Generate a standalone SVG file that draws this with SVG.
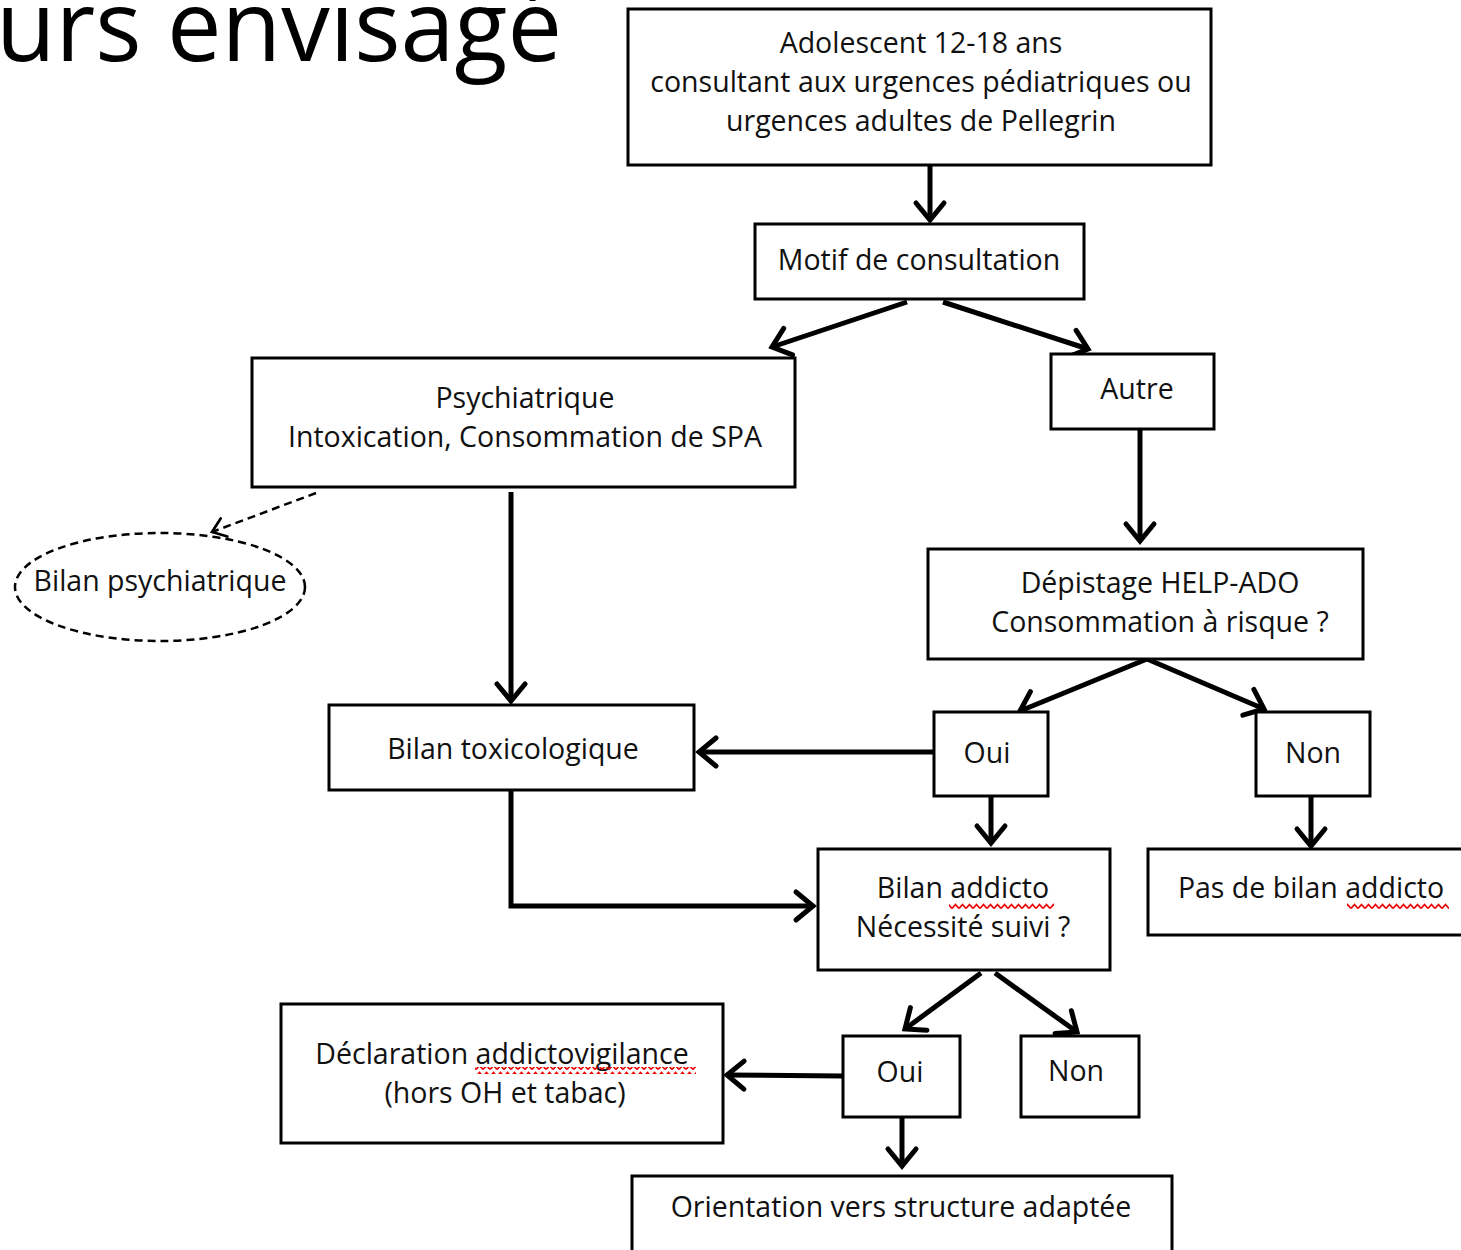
<svg xmlns="http://www.w3.org/2000/svg" width="1461" height="1250" viewBox="0 0 1461 1250">
<defs>
<style>
.box{fill:#fff;stroke:#000;stroke-width:3}
.t{font-family:"Open Sans","Liberation Sans",sans-serif;font-size:28.5px;fill:#111;text-anchor:middle}
.c{fill:none;stroke:#000;stroke-width:5;marker-end:url(#ah)}
.d{fill:none;stroke:#000;stroke-width:2.5;stroke-dasharray:8 5;marker-end:url(#ahd)}
</style>
<marker id="ah" markerUnits="userSpaceOnUse" markerWidth="40" markerHeight="40" viewBox="-24 -20 28 40" refX="0" refY="0" orient="auto" overflow="visible">
<path d="M-17 -14 L0 0 L-17 14" fill="none" stroke="#000" stroke-width="5" stroke-linecap="round" stroke-linejoin="miter"/>
</marker>
<marker id="ahd" markerUnits="userSpaceOnUse" markerWidth="30" markerHeight="30" viewBox="-16 -14 20 28" refX="0" refY="0" orient="auto" overflow="visible">
<path d="M-12 -9 L0 0 L-12 9" fill="none" stroke="#000" stroke-width="2.5" stroke-linecap="round"/>
</marker>
<pattern id="sq" width="7" height="7" patternUnits="userSpaceOnUse">
<path d="M0 5.5 L3.5 1.5 L7 5.5" fill="none" stroke="#e00" stroke-width="1.7"/>
</pattern>
</defs>
<rect width="1461" height="1250" fill="#fff"/>
<text x="-4" y="61" font-family="'Open Sans','Liberation Sans',sans-serif" font-size="98" fill="#000" textLength="566" lengthAdjust="spacingAndGlyphs">urs envisagé</text>

<g id="connectors">
<line class="c" x1="930" y1="166" x2="930" y2="220"/>
<line class="c" x1="907" y1="302" x2="772" y2="347"/>
<line class="c" x1="943" y1="302" x2="1088" y2="349"/>
<line class="c" x1="1140" y1="430" x2="1140" y2="541"/>
<line class="d" x1="316" y1="493" x2="212" y2="532"/>
<line class="c" x1="511" y1="492" x2="511" y2="701"/>
<line class="c" x1="1147" y1="659" x2="1020" y2="711"/>
<line class="c" x1="1147" y1="659" x2="1264" y2="709"/>
<line class="c" x1="934" y1="752" x2="699" y2="752"/>
<line class="c" x1="991" y1="797" x2="991" y2="843"/>
<line class="c" x1="1311" y1="797" x2="1311" y2="846"/>
<polyline class="c" points="511,790 511,906 813,906"/>
<line class="c" x1="981" y1="973" x2="905" y2="1029"/>
<line class="c" x1="995" y1="973" x2="1077" y2="1032"/>
<line class="c" x1="843" y1="1076" x2="727" y2="1075"/>
<line class="c" x1="902" y1="1118" x2="902" y2="1166"/>
</g>

<g id="n-adolescent">
<rect class="box" x="628" y="9" width="583" height="156"/>
<text class="t" x="921" y="53">Adolescent 12-18 ans</text>
<text class="t" x="921" y="92">consultant aux urgences pédiatriques ou</text>
<text class="t" x="921" y="131">urgences adultes de Pellegrin</text>
</g>
<g id="n-motif">
<rect class="box" x="755" y="224" width="329" height="75"/>
<text class="t" x="919" y="270">Motif de consultation</text>
</g>
<g id="n-psy">
<rect class="box" x="252" y="358" width="543" height="129"/>
<text class="t" x="525" y="408">Psychiatrique</text>
<text class="t" x="525" y="447">Intoxication, Consommation de SPA</text>
</g>
<g id="n-autre">
<rect class="box" x="1051" y="354" width="163" height="75"/>
<text class="t" x="1137" y="399">Autre</text>
</g>
<g id="n-depistage">
<rect class="box" x="928" y="549" width="435" height="110"/>
<text class="t" x="1160" y="593">Dépistage HELP-ADO</text>
<text class="t" x="1160" y="632">Consommation à risque ?</text>
</g>
<g id="n-bilan-psy">
<ellipse cx="160" cy="587" rx="145" ry="54" fill="#fff" stroke="#000" stroke-width="2.5" stroke-dasharray="8 5"/>
<text class="t" x="160" y="591">Bilan psychiatrique</text>
</g>
<g id="n-bilan-toxico">
<rect class="box" x="329" y="705" width="365" height="85"/>
<text class="t" x="513" y="759">Bilan toxicologique</text>
</g>
<g id="n-oui1">
<rect class="box" x="934" y="712" width="114" height="84"/>
<text class="t" x="987" y="763">Oui</text>
</g>
<g id="n-non1">
<rect class="box" x="1256" y="712" width="114" height="84"/>
<text class="t" x="1313" y="763">Non</text>
</g>
<g id="n-bilan-addicto">
<rect class="box" x="818" y="849" width="292" height="121"/>
<text class="t" x="963" y="898">Bilan addicto</text>
<text class="t" x="963" y="937">Nécessité suivi ?</text>
<rect x="949" y="902" width="105" height="7" fill="url(#sq)"/>
</g>
<g id="n-pas-bilan">
<rect class="box" x="1148" y="849" width="330" height="86"/>
<text class="t" x="1311" y="898">Pas de bilan addicto</text>
<rect x="1347" y="902" width="102" height="7" fill="url(#sq)"/>
</g>
<g id="n-oui2">
<rect class="box" x="843" y="1036" width="117" height="81"/>
<text class="t" x="900" y="1082">Oui</text>
</g>
<g id="n-non2">
<rect class="box" x="1021" y="1036" width="118" height="81"/>
<text class="t" x="1076" y="1081">Non</text>
</g>
<g id="n-declaration">
<rect class="box" x="281" y="1004" width="442" height="139"/>
<text class="t" x="502" y="1064">Déclaration addictovigilance</text>
<text class="t" x="505" y="1103">(hors OH et tabac)</text>
<rect x="475" y="1067" width="221" height="7" fill="url(#sq)"/>
</g>
<g id="n-orientation">
<rect class="box" x="632" y="1176" width="540" height="90"/>
<text class="t" x="901" y="1217">Orientation vers structure adaptée</text>
</g>
</svg>
